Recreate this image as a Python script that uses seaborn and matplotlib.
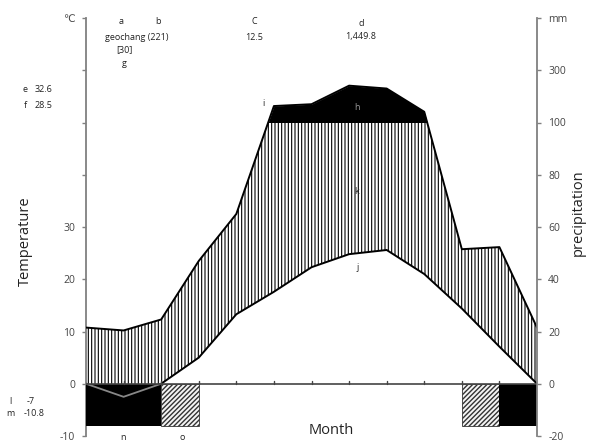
import numpy as np
import pandas as pd
import matplotlib
matplotlib.use("Agg")
import matplotlib.pyplot as plt
import seaborn as sns

# ---- data ----
month_pos = [0, 1, 2, 3, 4, 5, 6, 7, 8, 9, 10, 11, 12]
temperature = [0.0, -2.5, 0.0, 5.0, 13.3, 17.6, 22.3, 24.8, 25.6, 21.0, 14.4, 7.1, 0.0]
precipitation = [21.5, 20.4, 24.6, 47.0, 65.0, 163.0, 170.0, 241.0, 230.0, 141.0, 51.5, 52.3, 21.5]
frost_sure = [1, 1, 0, 0, 0, 0, 0, 0, 0, 0, 0, 1]      # per month interval
frost_prob = [0, 0, 1, 0, 0, 0, 0, 0, 0, 0, 1, 0]
frost_depth = -8
left_ticks = [-10, 0, 10, 20, 30, 40, 50, 60, 70]
left_labels = ['-10', '0', '10', '20', '30', '', '', '', '℃']
right_labels = ['-20', '0', '20', '40', '60', '80', '100', '300', 'mm']

sns.set_style("white")
plt.rcParams['font.family'] = ['Open Sans', 'DejaVu Sans']
plt.rcParams['hatch.linewidth'] = 0.8

def to_scale(p):
    p = np.asarray(p, dtype=float)
    return np.where(p <= 100, p / 2.0, 50 + (p - 100) / 20.0)

x = np.array(month_pos, dtype=float)
t = np.array(temperature)
ps = to_scale(precipitation)

fig = plt.figure(figsize=(6, 4.43), dpi=100)
ax = fig.add_axes([86 / 600, 7 / 443, 451 / 600, 418 / 443])
ax.set_xlim(0, 12)
ax.set_ylim(-10, 70)

# fine grid for fills (linear interpolation of the drawn lines)
xf = np.linspace(0, 12, 1201)
tf = np.interp(xf, x, t)
pf = np.interp(xf, x, ps)

ax.fill_between(xf, tf, np.minimum(pf, 50), where=pf >= tf, facecolor='white',
                edgecolor='black', hatch='|||||', linewidth=0, zorder=1)
ax.fill_between(xf, 50, pf, where=pf >= 50, facecolor='black', edgecolor='black',
                linewidth=0, zorder=2)

df = pd.DataFrame({'month': x, 'temp': t, 'prec': ps})
sns.lineplot(data=df, x='month', y='prec', color='black', lw=1.4, ax=ax, zorder=4)
sns.lineplot(data=df, x='month', y='temp', color='black', lw=1.4, ax=ax, zorder=4)

# frost bars
for i in range(12):
    if frost_sure[i]:
        ax.bar(i, frost_depth, width=1, align='edge', color='black', zorder=5, linewidth=0)
    if frost_prob[i]:
        bars = ax.bar(i, frost_depth, width=1, align='edge', facecolor='#f4f4f4',
                      edgecolor='#333333', hatch='///////', linewidth=0.6, zorder=5)
        for b in bars:
            try:
                b.set_hatch_linewidth(1.0)
            except Exception:
                pass

# temperature below zero shown in grey over the black bar
neg = df[df['month'] <= 2]
ax.plot(neg['month'], neg['temp'], color='#888888', lw=1.3, zorder=6)

ax.axhline(0, color='#444444', lw=1.2, zorder=6)

# axes styling
ax.spines['top'].set_visible(False)
ax.spines['right'].set_visible(False)
ax.spines['bottom'].set_visible(False)
ax.spines['left'].set_color('#808080')
ax.spines['left'].set_linewidth(1.3)
ax.set_yticks(left_ticks)
ax.set_yticklabels(left_labels)
ax.tick_params(axis='y', direction='out', length=3, width=1, color='#808080',
               labelsize=7.5, labelcolor='#444444', pad=5)
ax.set_xticks(month_pos)
ax.set_xticklabels([])
ax.tick_params(axis='x', length=0)
for xm in month_pos[1:-1]:
    ax.plot([xm, xm], [0, 0.6], color='#444444', lw=1, zorder=6)
ax.set_xlabel('')
ax.set_ylabel('')

ax2 = ax.twinx()
ax2.set_ylim(-10, 70)
ax2.set_yticks(left_ticks)
ax2.set_yticklabels(right_labels)
for s in ['top', 'left', 'bottom']:
    ax2.spines[s].set_visible(False)
ax2.spines['right'].set_color('#808080')
ax2.spines['right'].set_linewidth(1.3)
ax2.tick_params(axis='y', direction='out', length=3, width=1, color='#808080',
                labelsize=7.5, labelcolor='#444444', pad=5)
ax2.grid(False)
ax.grid(False)

# texts
def ft(px, py, s, ha='center', size=6.5, color='#222222', **kw):
    fig.text(px / 600, 1 - py / 443, s, ha=ha, va='center', fontsize=size, color=color, **kw)

ft(121, 22, 'a')
ft(158, 22, 'b')
ft(137, 37, 'geochang (221)')
ft(124, 50, '[30]')
ft(124, 64, 'g')
ft(254, 22, 'C')
ft(254, 37, '12.5')
ft(361, 23, 'd')
ft(361, 37, '1,449.8')
ft(25, 90, 'e')
ft(35, 90, '32.6', ha='left')
ft(25, 105, 'f')
ft(35, 105, '28.5', ha='left')
ft(10, 401, 'l')
ft(27, 401, '-7', ha='left')
ft(10, 413, 'm')
ft(24, 413, '-10.8', ha='left')
ft(263, 103, 'i')
ft(357, 107, 'h', color='#999999')
ft(357, 192, 'k')
ft(358, 268, 'j')
ft(123, 437, 'n')
ft(182, 437, 'o')
ft(331, 431, 'Month', size=10.5)
ft(25, 241, 'Temperature', size=10.5, rotation=90)
ft(578, 213, 'precipitation', size=10.5, rotation=90)

fig.savefig('out.png', dpi=100)
